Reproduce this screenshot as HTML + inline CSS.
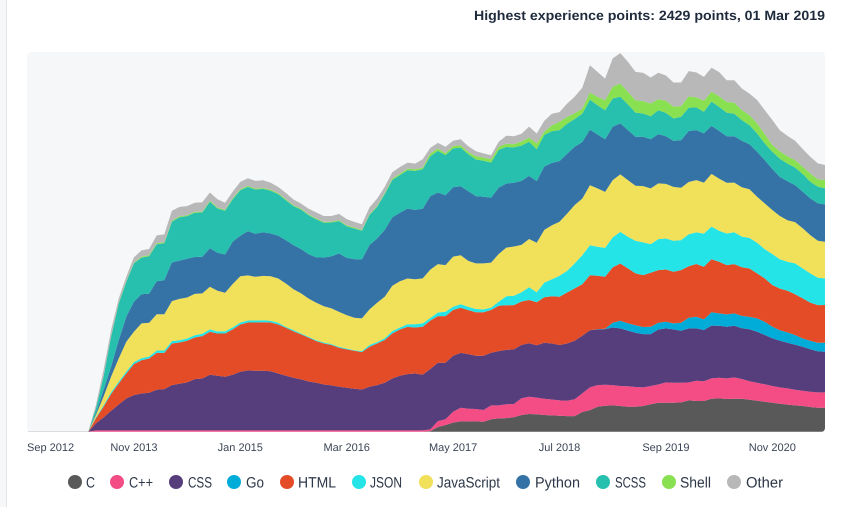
<!DOCTYPE html>
<html lang="en">
<head>
<meta charset="utf-8">
<title>Experience points by language</title>
<style>
html,body{margin:0;padding:0;background:#fff;}
body{width:841px;height:507px;overflow:hidden;position:relative;}
svg{position:absolute;left:0;top:0;display:block;font-family:"Liberation Sans",sans-serif;text-rendering:geometricPrecision;}
</style>
</head>
<body>
<svg id="chart" width="841" height="507" viewBox="0 0 841 507" xmlns="http://www.w3.org/2000/svg">
  <defs>
    <clipPath id="plot-clip"><rect x="27" y="52" width="798" height="380" rx="4" ry="4"></rect></clipPath>
  </defs>
  <rect x="0" y="0" width="6" height="507" fill="#f6f7f9"></rect>
  <rect x="6" y="0" width="1" height="507" fill="#e4e5e8"></rect>
  <text x="474" y="20" font-size="13.5" font-weight="700" fill="#1f2a3c" textLength="351" lengthAdjust="spacingAndGlyphs">Highest experience points: 2429 points, 01 Mar 2019</text>
  <rect x="27" y="52" width="798" height="380" rx="4" ry="4" fill="#f6f7f9"></rect>
  <line x1="28" y1="431.5" x2="90" y2="431.5" stroke="#dcdde0" stroke-width="1"></line>
  <g id="areas" clip-path="url(#plot-clip)"></g>
  <g id="ticks" font-size="11" fill="#3c4656"></g>
  <g font-size="15" fill="#2d3748">
    <g><circle cx="75" cy="482" r="7" fill="#595959"></circle><text x="86" y="487.5" textLength="9" lengthAdjust="spacingAndGlyphs">C</text></g>
    <g><circle cx="117" cy="482" r="7" fill="#f44d85"></circle><text x="129" y="487.5" textLength="24" lengthAdjust="spacingAndGlyphs">C++</text></g>
    <g><circle cx="176" cy="482" r="7" fill="#563d7c"></circle><text x="188" y="487.5" textLength="24" lengthAdjust="spacingAndGlyphs">CSS</text></g>
    <g><circle cx="234" cy="482" r="7" fill="#02acd8"></circle><text x="246" y="487.5" textLength="18" lengthAdjust="spacingAndGlyphs">Go</text></g>
    <g><circle cx="287" cy="482" r="7" fill="#e34c26"></circle><text x="298" y="487.5" textLength="38" lengthAdjust="spacingAndGlyphs">HTML</text></g>
    <g><circle cx="359" cy="482" r="7" fill="#25e4e8"></circle><text x="370" y="487.5" textLength="32" lengthAdjust="spacingAndGlyphs">JSON</text></g>
    <g><circle cx="426" cy="482" r="7" fill="#f1e05a"></circle><text x="437" y="487.5" textLength="63" lengthAdjust="spacingAndGlyphs">JavaScript</text></g>
    <g><circle cx="523" cy="482" r="7" fill="#3572a5"></circle><text x="535" y="487.5" textLength="45" lengthAdjust="spacingAndGlyphs">Python</text></g>
    <g><circle cx="603" cy="482" r="7" fill="#27bfae"></circle><text x="615" y="487.5" textLength="31" lengthAdjust="spacingAndGlyphs">SCSS</text></g>
    <g><circle cx="669" cy="482" r="7" fill="#89e051"></circle><text x="680" y="487.5" textLength="31" lengthAdjust="spacingAndGlyphs">Shell</text></g>
    <g><circle cx="734" cy="482" r="7" fill="#b8b8b8"></circle><text x="746" y="487.5" textLength="37" lengthAdjust="spacingAndGlyphs">Other</text></g>
  </g>
</svg>
<script>
// Months are counted from Sep 2012; the first stored sample is May 2013 (month 8).
const firstMonth = 8;
const tickMonths = [0, 14, 28, 42, 56, 70, 84, 98];
const tickLabels = ['Sep 2012', 'Nov 2013', 'Jan 2015', 'Mar 2016', 'May 2017', 'Jul 2018', 'Sep 2019', 'Nov 2020'];
const peakPoints = 2429;

const seriesNames = ['C', 'C++', 'CSS', 'Go', 'HTML', 'JSON', 'JavaScript', 'Python', 'SCSS', 'Shell', 'Other'];
const seriesColors = ['#595959', '#f44d85', '#563d7c', '#02acd8', '#e34c26', '#25e4e8', '#f1e05a', '#3572a5', '#27bfae', '#89e051', '#b8b8b8'];

const valuesC = [
  0,0,0,0,0,0,0,0,0,0,0,0,0,0,0,0,0,0,0,0,0,0,0,0,0,0,0,0,0,0,0,0,0,0,0,0,0,0,0,0,0,0,0,0,0,
  4,30,43,58,66,66,66,64,79,85,87,92,107,113,111,107,104,102,100,100,126,138,160,166,168,164,
  160,160,164,175,185,185,185,187,200,196,196,211,213,209,211,211,204,198,192,185,179,173,168,164,158,153,153
];
const valuesCpp = [
  0,8,8,8,8,8,8,8,8,8,8,8,8,8,8,8,8,8,8,8,8,8,8,8,8,8,8,8,8,8,8,8,8,8,8,8,8,8,8,8,8,8,8,8,8,
  11,38,36,70,87,81,79,75,89,83,89,85,107,111,107,104,102,98,98,107,119,145,138,134,130,128,
  130,126,119,117,117,130,128,126,115,130,126,130,132,132,136,126,119,115,111,107,104,104,100,98,98,98,98
];
const valuesCss = [
  0,45,83,126,166,204,226,
  236,241,260,264,290,298,307,328,332,356,349,343,356,375,383,381,381,379,364,349,337,326,313,305,294,288,279,273,266,262,279,290,305,332,349,360,364,356,
  386,373,362,358,351,349,341,347,337,347,347,349,341,341,334,358,358,354,366,375,368,366,356,356,368,368,
  356,347,341,332,351,345,341,332,345,334,328,337,332,330,330,324,332,326,315,305,298,292,288,281,271,262,260
];
const valuesGo = [
  0,0,0,0,0,0,0,0,0,0,0,0,0,0,0,0,0,0,0,0,0,0,0,0,0,0,0,0,0,0,0,0,0,0,0,0,0,0,0,0,0,0,0,0,0,
  0,0,0,0,0,0,0,0,0,0,0,0,0,0,0,0,0,0,0,0,0,0,2,2,30,49,
  47,47,45,47,43,43,38,51,68,75,68,85,79,79,79,79,79,85,85,75,68,66,62,53,55,55,58
];
const valuesHtml = [
  0,32,68,107,134,160,198,
  213,219,236,232,266,264,266,266,271,275,271,277,290,302,307,309,311,311,313,307,296,288,279,266,262,258,249,245,243,239,256,266,273,288,296,302,294,307,
  309,298,298,292,288,281,277,277,273,290,285,283,277,277,275,290,302,309,326,334,330,351,341,332,354,366,
  351,332,332,345,337,334,330,337,330,337,337,339,330,315,315,311,309,288,277,266,266,266,260,256,243,241,241
];
const valuesJson = [
  0,6,9,11,11,13,13,
  13,13,15,15,15,15,15,15,15,15,13,13,13,13,13,13,13,11,11,6,9,6,6,6,6,6,6,6,4,6,11,9,11,15,13,17,21,21,
  17,23,28,21,23,21,21,19,15,26,58,60,60,81,64,94,109,134,138,160,185,192,185,185,192,202,
  202,209,209,183,198,198,198,192,204,202,211,209,198,202,204,196,196,196,187,198,187,185,198,192,187,175,170
];
const valuesJavaScript = [
  0,15,55,100,149,190,194,
  222,215,232,232,256,264,262,264,258,273,260,247,277,296,288,279,283,285,283,277,260,256,245,239,232,228,224,213,207,209,228,251,266,290,296,292,288,288,
  309,309,298,320,313,294,292,294,288,305,311,315,302,309,317,337,345,345,366,373,362,383,373,358,366,368,
  362,351,360,356,356,349,345,334,334,334,326,337,334,324,317,315,311,294,292,281,277,266,264,256,245,236,234
];
const valuesPython = [
  0,11,43,64,117,160,192,
  187,187,211,217,247,245,247,236,234,245,243,245,271,258,283,275,279,273,273,277,283,283,283,290,311,334,373,366,375,377,411,411,426,437,437,447,443,445,
  469,458,447,443,441,445,430,426,415,424,409,407,409,403,394,405,398,388,383,373,362,356,345,337,341,326,
  320,313,315,315,315,305,294,305,326,320,315,307,305,298,296,298,288,288,277,262,249,249,236,234,234,239,239
];
const valuesScss = [
  0,32,85,192,234,224,245,
  234,239,236,236,260,277,273,283,283,298,283,279,271,292,283,283,277,273,266,256,249,253,249,243,222,215,207,202,196,183,192,202,230,239,241,245,249,253,
  256,266,256,249,247,236,234,230,224,241,234,226,226,219,204,202,202,198,192,177,181,192,187,185,181,170,
  164,155,149,147,153,149,143,149,149,145,138,155,153,151,145,132,121,117,107,111,117,113,113,113,107,107,102
];
const valuesShell = [
  0,2,4,4,4,4,4,
  6,6,6,6,6,6,6,6,6,6,6,6,6,6,6,6,6,6,6,6,6,6,6,6,6,6,6,6,6,6,6,6,6,9,9,11,11,9,
  17,15,13,15,15,15,21,21,21,21,21,21,26,26,36,21,38,53,43,36,32,45,53,64,75,85,
  81,79,79,81,70,77,75,68,72,64,70,64,68,68,70,64,64,64,60,43,47,47,47,47,53,47,53
];
const valuesOther = [
  0,19,38,38,28,28,34,
  40,40,51,51,64,60,58,58,60,53,53,45,43,47,49,49,49,45,40,40,36,32,36,38,38,36,40,40,36,36,43,47,40,40,43,38,36,55,
  36,36,40,34,38,36,32,26,26,32,51,51,49,70,64,70,75,62,85,107,134,175,160,138,181,194,
  192,181,181,166,170,162,155,151,162,160,153,153,155,138,143,138,138,149,153,160,134,130,124,113,107,102,96
];

const seriesValues = [valuesC, valuesCpp, valuesCss, valuesGo, valuesHtml, valuesJson, valuesJavaScript, valuesPython, valuesScss, valuesShell, valuesOther];

const svgNS = 'http://www.w3.org/2000/svg';
const plotLeft = 27.5, monthWidth = 7.6, plotBase = 431.7, plotHeight = 380;

function xScale(month) {
  return plotLeft + month * monthWidth;
}
function yScale(points) {
  return plotBase - (points / peakPoints) * plotHeight;
}

const areasGroup = document.getElementById('areas');
const ticksGroup = document.getElementById('ticks');
const sampleCount = valuesC.length;
const cumulative = [];
for (let i = 0; i < sampleCount; i++) {
  cumulative.push(0);
}

seriesValues.forEach(function (values, s) {
  const lower = cumulative.slice();
  const upperPts = [];
  const lowerPts = [];
  for (let i = 0; i < sampleCount; i++) {
    cumulative[i] = lower[i] + (values[i] || 0);
    const x = xScale(firstMonth + i).toFixed(1);
    upperPts.push(x + ',' + yScale(cumulative[i]).toFixed(1));
    lowerPts.unshift(x + ',' + yScale(lower[i]).toFixed(1));
  }
  const el = document.createElementNS(svgNS, 'path');
  el.setAttribute('d', 'M' + upperPts.join('L') + 'L' + lowerPts.join('L') + 'Z');
  el.setAttribute('fill', seriesColors[s]);
  
  
  areasGroup.appendChild(el);
});

tickLabels.forEach(function (label, i) {
  const t = document.createElementNS(svgNS, 'text');
  const x = xScale(tickMonths[i]);
  t.setAttribute('x', i === 0 ? 27 : x);
  t.setAttribute('y', 451);
  t.setAttribute('text-anchor', i === 0 ? 'start' : 'middle');
  
  
  t.textContent = label;
  ticksGroup.appendChild(t);
});
</script>
</body>
</html>
